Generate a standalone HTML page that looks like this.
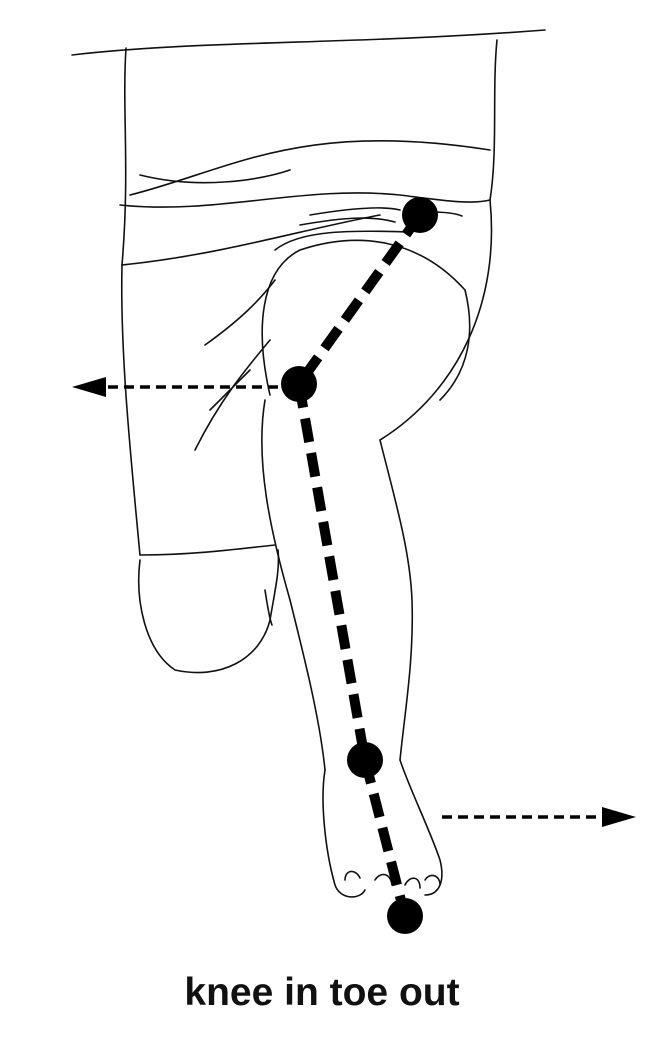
<!DOCTYPE html>
<html><head><style>
html,body{margin:0;padding:0;background:#fff;}
svg{display:block;}
</style></head><body>
<svg width="652" height="1046" viewBox="0 0 652 1046" xmlns="http://www.w3.org/2000/svg">
<g fill="none" stroke="#111" stroke-width="1.6" stroke-linecap="round">
<path d="M72 55 C200 40 350 45 545 30"/>
<path d="M126 48 C122 110 130 170 122 265"/>
<path d="M497 40 C492 90 498 150 490 200"/>
<path d="M122 265 C220 255 300 230 380 215"/>
<path d="M130 195 C230 170 300 120 490 150"/>
<path d="M120 205 C220 215 300 185 400 195 C440 200 470 205 490 200"/>
<path d="M140 175 C200 190 260 180 290 170"/>
<path d="M310 215 C340 210 380 205 400 210"/>
<path d="M300 225 C340 218 370 215 395 222"/>
<path d="M275 250 C300 230 350 230 410 232"/>
<path d="M430 212 C445 212 455 213 462 216"/>
<path d="M122 265 C120 350 130 450 140 555"/>
<path d="M140 555 C190 555 230 550 275 545"/>
<path d="M490 200 C500 300 460 390 380 440"/>
<path d="M270 395 C255 330 260 270 300 250 C360 230 420 240 465 290 C475 330 470 370 440 400"/>
<path d="M205 345 C240 320 260 300 275 280"/>
<path d="M195 450 C220 400 245 370 270 340"/>
<path d="M210 410 C230 390 240 380 250 370"/>
<path d="M140 560 C135 600 145 650 175 670 C220 680 260 660 270 620 C275 590 280 570 278 550"/>
<path d="M265 590 C268 610 270 620 272 625"/>
<path d="M265 400 C255 460 270 530 290 600 C305 660 320 720 325 770"/>
<path d="M380 440 C395 500 410 550 412 600 C414 660 405 710 400 760"/>
<path d="M325 770 C320 800 325 850 335 885 C340 900 360 900 365 890"/>
<path d="M400 760 C410 790 430 830 440 860 C445 880 440 895 425 895"/>
<path d="M345 880 C345 870 355 868 360 878"/>
<path d="M375 880 C380 872 390 872 392 885"/>
<path d="M405 885 C410 875 420 876 420 888"/>
<path d="M425 880 C430 872 440 875 440 885"/>
</g>
<g stroke="#000" stroke-width="10" fill="none" stroke-dasharray="24 11">
<line x1="420" y1="215" x2="299" y2="384"/>
<line x1="299" y1="384" x2="365" y2="760"/>
<line x1="365" y1="760" x2="405" y2="916"/>
</g>
<g stroke="#000" stroke-width="3.5" fill="none" stroke-dasharray="10 6">
<line x1="278" y1="387" x2="100" y2="387"/>
<line x1="442" y1="817" x2="610" y2="817"/>
</g>
<polygon points="72,387 106,377 106,397" fill="#000"/>
<polygon points="636,817 602,807 602,827" fill="#000"/>
<g fill="#000">
<circle cx="420" cy="215" r="18"/>
<circle cx="299" cy="384" r="18"/>
<circle cx="365" cy="760" r="18"/>
<circle cx="405" cy="916" r="18"/>
</g>
<text x="322" y="1005" text-anchor="middle" font-family="Liberation Sans, sans-serif" font-weight="bold" font-size="39" fill="#111">knee in toe out</text>
</svg>
</body></html>
